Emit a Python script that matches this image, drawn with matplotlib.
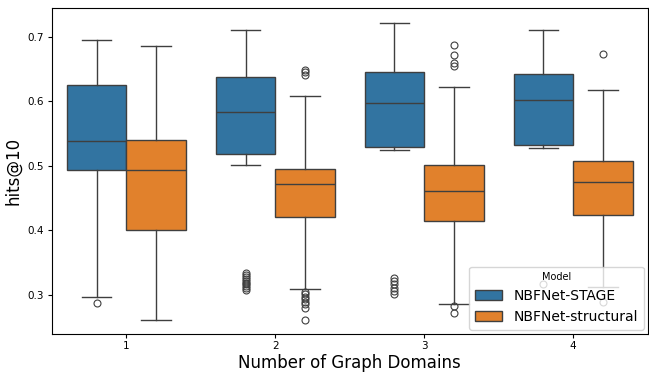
import numpy as np
import matplotlib
matplotlib.use("Agg")
import matplotlib.pyplot as plt
from matplotlib.patches import Patch

domains = ["1", "2", "3", "4"]
models = ["NBFNet-STAGE", "NBFNet-structural"]
colors = ["#3274a1", "#e1812c"]

# per model: [whislo, q1, med, q3, whishi] for each domain count
stage_stats = [
    [0.297, 0.494, 0.539, 0.626, 0.695],
    [0.501, 0.518, 0.584, 0.638, 0.711],
    [0.525, 0.529, 0.598, 0.646, 0.722],
    [0.528, 0.533, 0.602, 0.643, 0.711],
]
structural_stats = [
    [0.261, 0.401, 0.494, 0.540, 0.686],
    [0.309, 0.421, 0.472, 0.495, 0.608],
    [0.286, 0.415, 0.461, 0.501, 0.622],
    [0.312, 0.424, 0.475, 0.508, 0.618],
]
stage_fliers = [
    [0.287],
    [0.334, 0.331, 0.328, 0.325, 0.322, 0.319, 0.316, 0.313, 0.310, 0.307],
    [0.326, 0.321, 0.316, 0.311, 0.306, 0.301],
    [0.316],
]
structural_fliers = [
    [],
    [0.649, 0.645, 0.641, 0.305, 0.301, 0.297, 0.293, 0.289, 0.285, 0.280, 0.261],
    [0.688, 0.672, 0.660, 0.655, 0.283, 0.272],
    [0.674, 0.289],
]


def make_stats(stats, fliers):
    out = []
    for s, f in zip(stats, fliers):
        out.append({"whislo": s[0], "q1": s[1], "med": s[2], "q3": s[3],
                    "whishi": s[4], "fliers": f})
    return out


fig = plt.figure(figsize=(6.49, 3.73), dpi=100)
ax = fig.add_axes([0.080, 0.105, 0.918, 0.874])

x = np.arange(len(domains))
line_col = "#3f3f3f"
for k, (stats, fliers) in enumerate([(stage_stats, stage_fliers),
                                     (structural_stats, structural_fliers)]):
    pos = x - 0.2 + 0.4 * k
    ax.bxp(make_stats(stats, fliers), positions=pos, widths=0.4,
           patch_artist=True, manage_ticks=False,
           boxprops=dict(facecolor=colors[k], edgecolor=line_col, linewidth=1),
           medianprops=dict(color=line_col, linewidth=1),
           whiskerprops=dict(color=line_col, linewidth=1),
           capprops=dict(color=line_col, linewidth=1),
           flierprops=dict(marker="o", markerfacecolor="none",
                           markeredgecolor=line_col, markersize=5,
                           markeredgewidth=0.8))

ax.set_xlim(-0.5, 3.5)
ax.set_ylim(0.2395, 0.745)
ax.set_xticks(x)
ax.set_xticklabels(domains)
ax.set_yticks([0.3, 0.4, 0.5, 0.6, 0.7])
ax.tick_params(labelsize=7.5, length=3, pad=2.5)
ax.set_xlabel("Number of Graph Domains", fontsize=12, labelpad=2)
ax.set_ylabel("hits@10", fontsize=12, labelpad=4)

handles = [Patch(facecolor=colors[i], edgecolor=line_col, label=models[i])
           for i in range(2)]
ax.legend(handles=handles, title="Model", loc="lower right", fontsize=10,
          title_fontsize=7, borderaxespad=0.3)

fig.savefig("out.png", dpi=100)
